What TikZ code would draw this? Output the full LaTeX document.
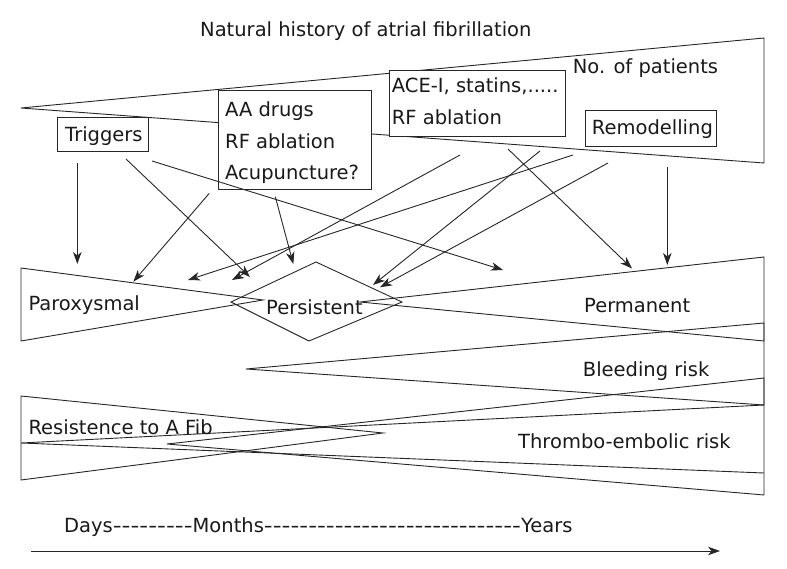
\documentclass[tikz,border=0pt]{standalone}
\usepackage{fontspec}
\setmainfont{DejaVu Sans}
\usepackage{graphicx}
\usetikzlibrary{arrows.meta}
\newcommand\lbfont{\fontsize{19.5}{31.7}\selectfont}
\newcommand\hy{\scalebox{1.26}[1]{-}}
\begin{document}
\begin{tikzpicture}[x=1pt,y=-1pt,
  wedge/.style={draw=black!85, line width=0.9pt, line join=miter},
  boxnode/.style={draw=black!85, fill=white, line width=0.9pt, inner sep=0pt, outer sep=0pt},
  lbl/.style={anchor=base west, inner sep=0pt, font=\lbfont, text=black!90},
  arr/.style={draw=black!85, line width=0.9pt, -{Stealth[length=12pt,width=8.5pt,inset=3.5pt]}}]

\useasboundingbox (0,0) rectangle (787,569);

% wedges
\draw[wedge] (21,108) -- (764,38) -- (764,163) -- cycle;
\draw[wedge] (263,300) -- (21,268) -- (21,341) -- cycle;
\draw[wedge] (360,302) -- (764,257) -- (764,341) -- cycle;
\draw[wedge] (246,369) -- (764,323) -- (764,405) -- cycle;
\draw[wedge] (764,405) -- (21,443) -- (764,473);
\draw[wedge] (167,444) -- (764,378) -- (764,495) -- cycle;
\draw[wedge] (383,433) -- (21,396) -- (21,480) -- cycle;

% Persistent diamond
\draw[wedge] (231,302) -- (316,262) -- (402,302) -- (309,341) -- cycle;

% boxes
\node[boxnode, minimum width=90.7, minimum height=33.7] (trig) at (102.7,134.2) {};
\node[boxnode, minimum width=152.7, minimum height=99] (aa) at (294.7,139.5) {};
\node[boxnode, minimum width=176.3, minimum height=66] (ace) at (477.2,103) {};
\node[boxnode, minimum width=131.7, minimum height=35.7] (rem) at (650.8,128.8) {};

% labels
\node[lbl] (title) at (200,37) {Natural history of atrial fibrillation};
\node[lbl] (npat) at (572.7,74) {No. of patients};
\node[lbl] (ace1) at (391.7,93) {ACE-I, statins,.....};
\node[lbl] (ace2) at (391.7,125) {RF ablation};
\node[lbl] (remt) at (591.7,135) {Remodelling};
\node[lbl] (trigt) at (65,141.7) {Triggers};
\node[lbl] (aa1) at (225,116.7) {AA drugs};
\node[lbl] (aa2) at (225,148.3) {RF ablation};
\node[lbl] (aa3) at (225,180) {Acupuncture?};
\node[lbl] (parox) at (28.3,311) {Paroxysmal};
\node[lbl] (pers) at (266,314) {Persistent};
\node[lbl] (perm) at (584,312.7) {Permanent};
\node[lbl] (bleed) at (582.7,376.7) {Bleeding risk};
\node[lbl] (resist) at (28.3,434) {Resistence to A Fib};
\node[lbl] (thromb) at (518,448.3) {Thrombo-embolic risk};
\node[lbl] (timet) at (64,532) {Days\hy\hy\hy\hy\hy\hy\hy\hy\hy Months\hy\hy\hy\hy\hy\hy\hy\hy\hy\hy\hy\hy\hy\hy\hy\hy\hy\hy\hy\hy\hy\hy\hy\hy\hy\hy\hy\hy\hy Years};

% arrow end points
\coordinate (t1s) at (77.3,163);   \coordinate (t1e) at (77.3,264);
\coordinate (t2s) at (126,159);    \coordinate (t2e) at (250,277);
\coordinate (t3s) at (152,161);    \coordinate (t3e) at (503,270);
\coordinate (a1s) at (209.3,193.3);\coordinate (a1e) at (133.3,281.7);
\coordinate (a2s) at (275.3,196.7);\coordinate (a2e) at (293.3,264);
\coordinate (c1s) at (460,155);    \coordinate (c1e) at (232,280);
\coordinate (c2s) at (540,151);    \coordinate (c2e) at (373,285);
\coordinate (c3s) at (508,149);    \coordinate (c3e) at (632,268.5);
\coordinate (r1s) at (573,155);    \coordinate (r1e) at (188,280);
\coordinate (r2s) at (608,163);    \coordinate (r2e) at (380,287.3);
\coordinate (r3s) at (667.3,167);  \coordinate (r3e) at (667.3,265);
\coordinate (tls) at (31,551);     \coordinate (tle) at (720,551);

\draw[arr] (t1s) -- (t1e);
\draw[arr] (t2s) -- (t2e);
\draw[arr] (t3s) -- (t3e);
\draw[arr] (a1s) -- (a1e);
\draw[arr] (a2s) -- (a2e);
\draw[arr] (c1s) -- (c1e);
\draw[arr] (c2s) -- (c2e);
\draw[arr] (c3s) -- (c3e);
\draw[arr] (r1s) -- (r1e);
\draw[arr] (r2s) -- (r2e);
\draw[arr] (r3s) -- (r3e);
\draw[arr] (tls) -- (tle);
\end{tikzpicture}
\end{document}
